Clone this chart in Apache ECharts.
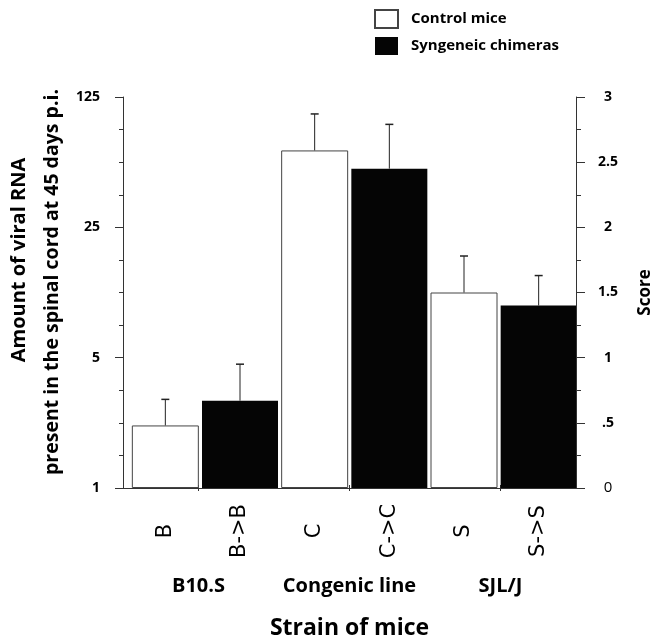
<!DOCTYPE html>
<html><head><meta charset="utf-8">
<script src="https://cdn.jsdelivr.net/npm/echarts@6/dist/echarts.min.js"></script>
<style>html,body{margin:0;padding:0;background:#fff}#c{width:658px;height:644px}</style>
</head><body><div id="c"></div>
<script>
// ---- data ----
const barLabels = ['B', 'B->B', 'C', 'C->C', 'S', 'S->S'];
const groupLabels = ['B10.S', 'Congenic line', 'SJL/J'];
const controlScore = [0.48, 2.59, 1.50];      // B, C, S
const controlErr   = [0.20, 0.28, 0.28];
const chimeraScore = [0.67, 2.45, 1.40];      // B->B, C->C, S->S
const chimeraErr   = [0.28, 0.34, 0.23];
const rnaTicks   = ['1', '5', '25', '125'];
const scoreTicks = ['0', '.5', '1', '1.5', '2', '2.5', '3'];
const seriesNames = ['Control mice', 'Syngeneic chimeras'];

// ---- build ----
const whiteData = [], blackData = [], errData = [];
for (let g = 0; g < 3; g++) {
  whiteData.push(controlScore[g], null);
  blackData.push(null, chimeraScore[g]);
  errData.push([2 * g, controlScore[g], controlScore[g] + controlErr[g]]);
  errData.push([2 * g + 1, chimeraScore[g], chimeraScore[g] + chimeraErr[g]]);
}
const F = '"Open Sans", "Noto Sans", sans-serif';
const lineC = '#333';

const chart = echarts.init(document.getElementById('c'), null, {renderer: 'canvas'});
chart.setOption({
  animation: false,
  backgroundColor: '#fff',
  legend: {
    orient: 'vertical', left: 374, top: 9, padding: 0,
    itemWidth: 23, itemHeight: 18, itemGap: 8, icon: 'rect',
    data: seriesNames,
    textStyle: {fontFamily: F, fontWeight: 'bold', fontSize: 15, color: '#000', padding: [0, 0, 0, 8]}
  },
  grid: [
    {left: 123, right: 82, top: 97, bottom: 156, outerBoundsMode: 'none', containLabel: false},
    {left: 128, right: 82, top: 97, bottom: 156, outerBoundsMode: 'none', containLabel: false}
  ],
  xAxis: [
    {gridIndex: 0, type: 'category', data: groupLabels, position: 'bottom',
     axisLine: {lineStyle: {color: lineC, width: 1}},
     axisTick: {show: true, alignWithLabel: true, length: 3, lineStyle: {color: lineC}},
     axisLabel: {interval: 0, margin: 88, fontFamily: F, fontWeight: 'bold', fontSize: 20, color: '#000'},
     name: 'Strain of mice', nameLocation: 'middle', nameGap: 129,
     nameTextStyle: {fontFamily: F, fontWeight: 'bold', fontSize: 23, color: '#000'}},
    {gridIndex: 0, type: 'category', data: groupLabels, position: 'top',
     axisLine: {lineStyle: {color: lineC, width: 1}},
     axisTick: {show: true, alignWithLabel: true, length: 3, lineStyle: {color: lineC}},
     axisLabel: {show: false}},
    {gridIndex: 1, type: 'category', data: barLabels, position: 'bottom',
     axisLine: {show: false}, axisTick: {show: false},
     axisLabel: {interval: 0, rotate: 90, margin: 43, align: 'center', verticalAlign: 'middle',
                 fontFamily: '"DejaVu Sans", sans-serif', fontSize: 21, color: '#000'}},
    {gridIndex: 1, type: 'category', data: barLabels, show: false}
  ],
  yAxis: [
    {gridIndex: 0, type: 'value', min: 0, max: 3, interval: 1, position: 'left',
     axisLine: {show: true, lineStyle: {color: lineC, width: 1}},
     axisTick: {show: true, length: 8, lineStyle: {color: lineC}},
     minorTick: {show: true, splitNumber: 4, length: 4, lineStyle: {color: lineC}},
     splitLine: {show: false},
     axisLabel: {margin: 23, formatter: v => rnaTicks[Math.round(v)],
                 fontFamily: F, fontWeight: 'bold', fontSize: 14, color: '#000'}},
    {gridIndex: 0, type: 'value', min: 0, max: 3, interval: 0.5, position: 'right',
     axisLine: {show: true, lineStyle: {color: lineC, width: 1}},
     axisTick: {show: true, length: 9, lineStyle: {color: lineC}},
     minorTick: {show: true, splitNumber: 2, length: 5, lineStyle: {color: lineC}},
     splitLine: {show: false},
     axisLabel: {margin: 32, align: 'center',
                 formatter: v => { const s = scoreTicks[Math.round(v * 2)]; return v === 0 ? '{r|' + s + '}' : s; },
                 rich: {r: {fontFamily: F, fontWeight: 'normal', fontSize: 15, color: '#000'}},
                 fontFamily: F, fontWeight: 'bold', fontSize: 14, color: '#000'},
     name: 'Score', nameLocation: 'middle', nameGap: 61, nameRotate: 90,
     nameTextStyle: {fontFamily: F, fontWeight: 'bold', fontSize: 17, color: '#000'}},
    {gridIndex: 1, type: 'value', min: 0, max: 3, show: false}
  ],
  graphic: [
    {type: 'text', x: 19, y: 260, rotation: Math.PI / 2,
     style: {text: 'Amount of viral RNA', fontFamily: F, fontWeight: 'bold', fontSize: 20, fill: '#000',
             align: 'center', verticalAlign: 'middle'}},
    {type: 'text', x: 52, y: 282, rotation: Math.PI / 2,
     style: {text: 'present in the spinal cord at 45 days p.i.', fontFamily: F, fontWeight: 'bold', fontSize: 19.5, fill: '#000',
             align: 'center', verticalAlign: 'middle'}}
  ],
  series: [
    {name: seriesNames[0], type: 'bar', xAxisIndex: 2, yAxisIndex: 2, data: whiteData, barWidth: 67,
     itemStyle: {color: '#fff', borderColor: '#444', borderWidth: 1}},
    {name: seriesNames[1], type: 'bar', xAxisIndex: 3, yAxisIndex: 2, data: blackData, barWidth: 76,
     itemStyle: {color: '#050505', borderColor: '#050505', borderWidth: 0}},
    {type: 'custom', xAxisIndex: 2, yAxisIndex: 2, data: errData, z: 5, silent: true,
     encode: {x: 0, y: [1, 2]},
     renderItem: function (params, api) {
       const p0 = api.coord([api.value(0), api.value(1)]);
       const p1 = api.coord([api.value(0), api.value(2)]);
       const cap = 4;
       return {type: 'group', children: [
         {type: 'line', shape: {x1: p0[0], y1: p0[1], x2: p1[0], y2: p1[1]}, style: {stroke: '#222', lineWidth: 1}},
         {type: 'line', shape: {x1: p1[0] - cap, y1: p1[1], x2: p1[0] + cap, y2: p1[1]}, style: {stroke: '#222', lineWidth: 1.5}}
       ]};
     }}
  ]
});
</script></body></html>
